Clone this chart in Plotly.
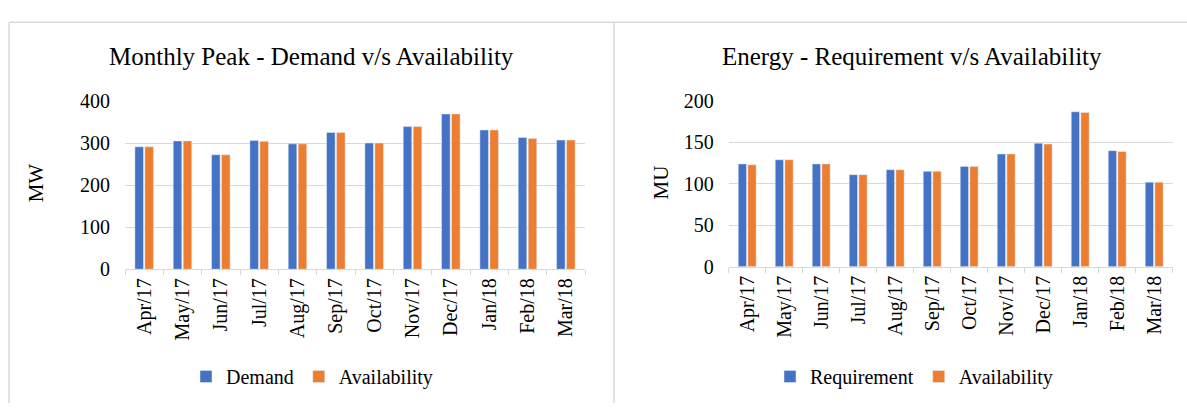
import plotly.graph_objects as go

# Month labels shared by both charts
months = ["Apr/17", "May/17", "Jun/17", "Jul/17", "Aug/17", "Sep/17",
          "Oct/17", "Nov/17", "Dec/17", "Jan/18", "Feb/18", "Mar/18"]

# Monthly peak (MW)
peak_demand = [291, 305, 272, 306, 298, 325, 300, 339, 369, 331, 313, 307]
peak_availability = [291, 305, 272, 304, 298, 325, 300, 339, 369, 331, 311, 307]

# Energy (MU)
energy_requirement = [124, 129, 124, 111, 117, 115, 121, 136, 149, 187, 140, 102]
energy_availability = [123, 129, 124, 111, 117, 115, 121, 136, 148, 186, 139, 102]

W, H = 1187, 414
BLUE = "#4472C4"
ORANGE = "#ED7D31"
GRID = "#D9D9D9"
FONT = "Liberation Serif"


def px_x(v):
    return v / W


def px_y(v):
    return 1 - v / H


fig = go.Figure()

fig.add_trace(go.Bar(x=months, y=peak_demand, name="Demand", marker_color=BLUE,
                     xaxis="x", yaxis="y", legend="legend"))
fig.add_trace(go.Bar(x=months, y=peak_availability, name="Availability", marker_color=ORANGE,
                     xaxis="x", yaxis="y", legend="legend"))
fig.add_trace(go.Bar(x=months, y=energy_requirement, name="Requirement", marker_color=BLUE,
                     xaxis="x2", yaxis="y2", legend="legend2"))
fig.add_trace(go.Bar(x=months, y=energy_availability, name="Availability", marker_color=ORANGE,
                     xaxis="x2", yaxis="y2", legend="legend2"))

xaxis_common = dict(
    type="category", showgrid=False, showline=True, linecolor=GRID, linewidth=1,
    ticks="outside", tickson="boundaries", ticklen=5, tickcolor=GRID,
    tickangle=-90, tickfont=dict(family=FONT, size=20, color="#000"),
    fixedrange=True,
)
yaxis_common = dict(
    showgrid=True, gridcolor=GRID, gridwidth=1, zeroline=False, showline=False,
    ticks="", tickfont=dict(family=FONT, size=20, color="#000"),
    ticklabelstandoff=14, fixedrange=True,
)

legend_font = dict(family=FONT, size=20, color="#000")

fig.update_layout(
    width=W, height=H,
    margin=dict(l=0, r=0, t=0, b=0),
    paper_bgcolor="white", plot_bgcolor="white",
    barmode="group", bargap=0.48, bargroupgap=0.14,
    font=dict(family=FONT, color="#000"),
    xaxis=dict(domain=[px_x(125), px_x(585)], anchor="y", **xaxis_common),
    yaxis=dict(domain=[px_y(272.7), px_y(95)], anchor="x", range=[0, 400],
               dtick=100, **yaxis_common),
    xaxis2=dict(domain=[px_x(728.7), px_x(1172.7)], anchor="y2", **xaxis_common),
    yaxis2=dict(domain=[px_y(270), px_y(95)], anchor="x2", range=[0, 200],
                dtick=50, **yaxis_common),
    legend=dict(orientation="h", x=px_x(312), y=px_y(386), xanchor="center",
                yanchor="middle", font=legend_font, bgcolor="rgba(0,0,0,0)"),
    legend2=dict(orientation="h", x=px_x(914), y=px_y(386), xanchor="center",
                 yanchor="middle", font=legend_font, bgcolor="rgba(0,0,0,0)"),
    showlegend=True,
)

# Chart titles and axis titles
title_font = dict(family=FONT, size=25, color="#000")
fig.add_annotation(text="Monthly Peak - Demand v/s Availability", x=px_x(311.5), y=px_y(48),
                   xref="paper", yref="paper", xanchor="center", yanchor="middle",
                   showarrow=False, font=title_font)
fig.add_annotation(text="Energy - Requirement v/s Availability", x=px_x(912), y=px_y(48),
                   xref="paper", yref="paper", xanchor="center", yanchor="middle",
                   showarrow=False, font=title_font)
fig.add_annotation(text="MW", x=px_x(36), y=px_y(182), xref="paper", yref="paper",
                   xanchor="center", yanchor="middle", showarrow=False, textangle=-90,
                   font=dict(family=FONT, size=21, color="#000"))
fig.add_annotation(text="MU", x=px_x(661), y=px_y(181), xref="paper", yref="paper",
                   xanchor="center", yanchor="middle", showarrow=False, textangle=-90,
                   font=dict(family=FONT, size=21, color="#000"))

# Chart frame borders
border = dict(color=GRID, width=1.5)
fig.add_shape(type="line", xref="paper", yref="paper", x0=px_x(9), x1=1, y0=px_y(12), y1=px_y(12), line=border)
fig.add_shape(type="line", xref="paper", yref="paper", x0=px_x(9), x1=px_x(9), y0=px_y(12), y1=0, line=border)
fig.add_shape(type="line", xref="paper", yref="paper", x0=px_x(614), x1=px_x(614), y0=px_y(12), y1=0, line=border)

fig.write_html("out.html", config={"displayModeBar": False})
